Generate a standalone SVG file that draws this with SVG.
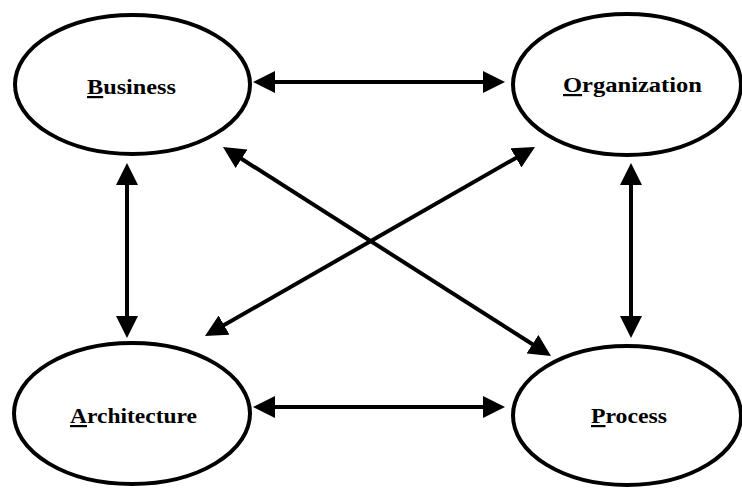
<svg xmlns="http://www.w3.org/2000/svg" width="742" height="488" viewBox="0 0 742 488">
  <style>
    .node { fill: #ffffff; stroke: #000000; stroke-width: 4; }
    .label { font-family: "Liberation Serif", "Times New Roman", serif; font-weight: bold; font-size: 22px; fill: #000000; }
    .key { text-decoration: underline; }
    .link { stroke: #000000; stroke-width: 4; fill: none; marker-start: url(#head); marker-end: url(#head); }
  </style>
  <defs>
    <marker id="head" markerUnits="userSpaceOnUse" markerWidth="22" markerHeight="22" refX="8" refY="11" orient="auto-start-reverse">
      <path d="M0,0 L22,11 L0,22 Z" fill="#000000"/>
    </marker>
  </defs>
  <rect width="742" height="488" fill="#ffffff"/>

  <g id="business">
    <ellipse class="node" cx="132.5" cy="84.5" rx="117.5" ry="69.5"/>
    <text class="label" x="87" y="94" textLength="89" lengthAdjust="spacingAndGlyphs"><tspan class="key">B</tspan>usiness</text>
  </g>

  <g id="organization">
    <ellipse class="node" cx="627" cy="84.5" rx="114" ry="70.5"/>
    <text class="label" x="563" y="92" textLength="139" lengthAdjust="spacingAndGlyphs"><tspan class="key">O</tspan>rganization</text>
  </g>

  <g id="architecture">
    <ellipse class="node" cx="132" cy="413.5" rx="118" ry="70.5"/>
    <text class="label" x="70" y="423" textLength="127" lengthAdjust="spacingAndGlyphs"><tspan class="key">A</tspan>rchitecture</text>
  </g>

  <g id="process">
    <ellipse class="node" cx="627" cy="415.5" rx="114" ry="69.5"/>
    <text class="label" x="591" y="423" textLength="76" lengthAdjust="spacingAndGlyphs"><tspan class="key">P</tspan>rocess</text>
  </g>

  <g id="connectors">
    <line class="link" x1="267" y1="82" x2="491" y2="82"/>
    <line class="link" x1="267" y1="407" x2="491" y2="407"/>
    <line class="link" x1="127" y1="177" x2="127" y2="324"/>
    <line class="link" x1="631" y1="177" x2="631" y2="324"/>
    <line class="link" x1="234.8" y1="154.5" x2="539.2" y2="348.5"/>
    <line class="link" x1="522.85" y1="153.96" x2="217.15" y2="329.04"/>
  </g>
</svg>
